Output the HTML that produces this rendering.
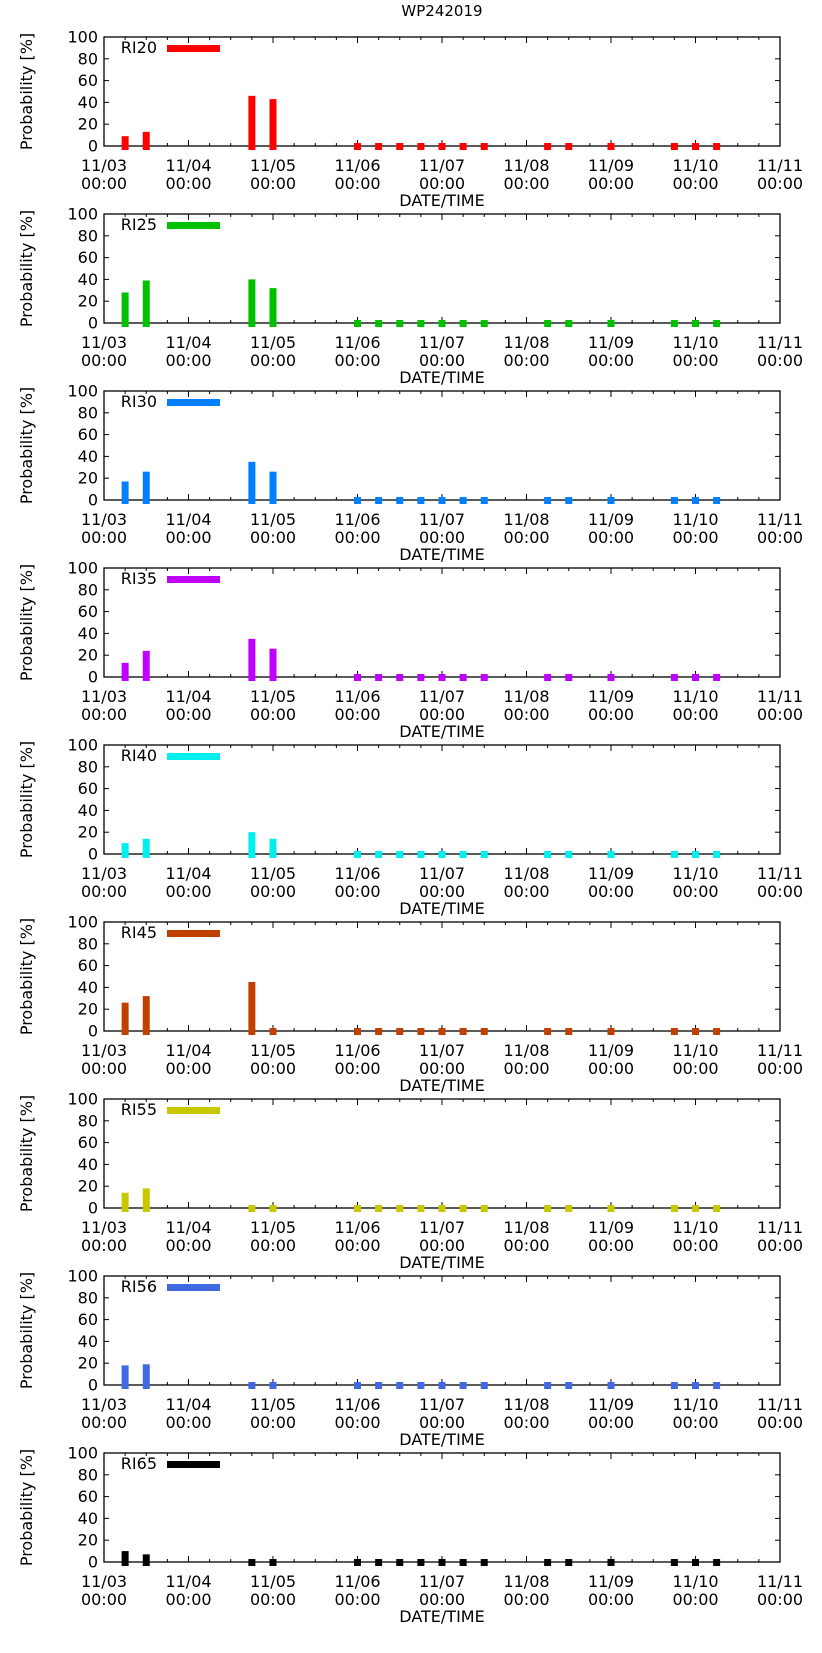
<!DOCTYPE html>
<html><head><meta charset="utf-8">
<style>
html,body{margin:0;padding:0;background:#fff;}
svg{display:block;font-family:"DejaVu Sans","Liberation Sans",sans-serif;}
</style></head>
<body>
<svg id="chart" width="822" height="1653" viewBox="0 0 822 1653" xmlns="http://www.w3.org/2000/svg">
<text x="442" y="16" font-size="15" text-anchor="middle" fill="#000">WP242019</text>
</svg>
<script>
// days offset from 11/03 00:00
const times = [0.25,0.5,1.75,2.0,3.0,3.25,3.5,3.75,4.0,4.25,4.5,5.25,5.5,6.0,6.75,7.0,7.25];
const seriesNames = ["RI20","RI25","RI30","RI35","RI40","RI45","RI55","RI56","RI65"];
const seriesColors = ["#ff0000","#00c000","#0080ff","#c000ff","#00eeee","#c04000","#c8c800","#4169e1","#000000"];
const ri20 = [9,13,46,43,0,0,0,0,0,0,0,0,0,0,0,0,0];
const ri25 = [28,39,40,32,0,0,0,0,0,0,0,0,0,0,0,0,0];
const ri30 = [17,26,35,26,0,0,0,0,0,0,0,0,0,0,0,0,0];
const ri35 = [13,24,35,26,0,0,0,0,0,0,0,0,0,0,0,0,0];
const ri40 = [10,14,20,14,0,0,0,0,0,0,0,0,0,0,0,0,0];
const ri45 = [26,32,45,0,0,0,0,0,0,0,0,0,0,0,0,0,0];
const ri55 = [14,18,0,0,0,0,0,0,0,0,0,0,0,0,0,0,0];
const ri56 = [18,19,0,0,0,0,0,0,0,0,0,0,0,0,0,0,0];
const ri65 = [10,7,0,0,0,0,0,0,0,0,0,0,0,0,0,0,0];
const seriesValues = [ri20,ri25,ri30,ri35,ri40,ri45,ri55,ri56,ri65];
const xTickLabels = ["11/03","11/04","11/05","11/06","11/07","11/08","11/09","11/10","11/11"];
const yTickLabels = [0,20,40,60,80,100];

const NS="http://www.w3.org/2000/svg";
const svg=document.getElementById('chart');
const L=104,R=780,PH=109,TOP0=37,STEP=177;
const xScale=d=>L+(R-L)*d/8;
function mk(tag,attrs,parent){const e=document.createElementNS(NS,tag);for(const k in attrs)e.setAttribute(k,attrs[k]);(parent||svg).appendChild(e);return e;}

seriesValues.forEach((vals,p)=>{
  const top=TOP0+STEP*p, bot=top+PH;
  const yScale=v=>bot-PH*v/100;
  const g=mk('g',{});
  
  
  // frame
  const fr=mk('rect',{x:L,y:top,width:R-L,height:PH,fill:'none',stroke:'#000','stroke-width':1.3},g);
  
  
  // y ticks
  yTickLabels.forEach(v=>{
    const y=yScale(v);
    mk('line',{x1:L,x2:L+5,y1:y,y2:y,stroke:'#000'},g);
    mk('line',{x1:R,x2:R-5,y1:y,y2:y,stroke:'#000'},g);
    const t=mk('text',{x:L-6,y:y+5.5,'font-size':16,'text-anchor':'end',fill:'#000'},g);
    t.textContent=v;
    
    
  });
  // x ticks (major each day, minor 6h)
  for(let k=0;k<=32;k++){
    const x=xScale(k/4);const len=(k%4===0)?6:3;
    mk('line',{x1:x,x2:x,y1:bot,y2:bot-len,stroke:'#000'},g);
    mk('line',{x1:x,x2:x,y1:top,y2:top+len,stroke:'#000'},g);
  }
  // bars (drawn over axes)
  vals.forEach((v,i)=>{
    const x=xScale(times[i]);
    const yt=Math.min(yScale(v),bot-3);
    const r=mk('rect',{x:x-3.5,y:yt,width:7,height:bot+4-yt,fill:seriesColors[p]},g);
    
    
  });
  xTickLabels.forEach((lab,d)=>{
    const x=xScale(d);
    const t1=mk('text',{x:x,y:bot+25,'font-size':16,'text-anchor':'middle',fill:'#000'},g);
    t1.textContent=lab;
    
    
    const t2=mk('text',{x:x,y:bot+43,'font-size':16,'text-anchor':'middle',fill:'#000'},g);
    t2.textContent='00:00';
    
    
  });
  const xt=mk('text',{x:442,y:bot+60,'font-size':16,'text-anchor':'middle',fill:'#000'},g);
  xt.textContent='DATE/TIME';
  
  
  const cy=top+PH/2;
  const yt=mk('text',{x:0,y:0,'font-size':16,'text-anchor':'middle',fill:'#000',transform:'translate(32,'+cy+') rotate(-90)'},g);
  yt.textContent='Probability [%]';
  
  
  // legend
  const lt=mk('text',{x:157,y:top+16,'font-size':16,'text-anchor':'end',fill:'#000'},g);
  lt.textContent=seriesNames[p];
  
  
  const ls=mk('rect',{x:167,y:top+8,width:53,height:7,fill:seriesColors[p]},g);
  
  
});
</script>
</body></html>
